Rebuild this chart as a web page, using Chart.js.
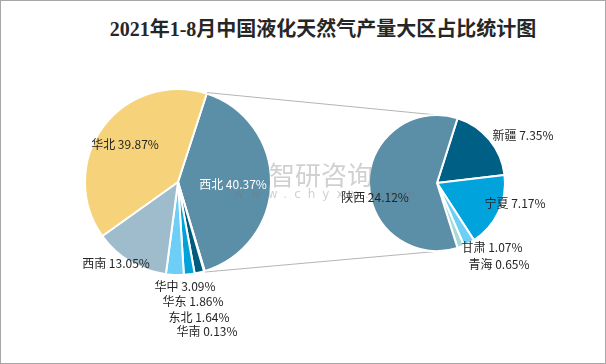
<!DOCTYPE html>
<html>
<head>
<meta charset="utf-8">
<script src="https://cdn.jsdelivr.net/npm/chart.js@4.4.0/dist/chart.umd.min.js"></script>
<style>
  body { margin: 0; background: #fff; }
  #wrap { position: relative; width: 604px; height: 362px; border: 1px solid #a6a6a6; overflow: hidden; }
  #title { position: absolute; left: 38px; top: 12px; width: 568px; text-align: center;
           font: bold 20px "Liberation Serif", "Noto Sans CJK SC", serif; color: #262626; }
  canvas { position: absolute; left: -1px; top: -1px; }
  #mark { position: absolute; left: 268px; top: 158px; color: rgba(120,120,120,0.35);
          font: 26px "Noto Sans CJK SC", sans-serif; line-height: 30px; z-index: 5; }
  #mark2 { position: absolute; left: 233px; top: 186px; color: rgba(120,120,120,0.35);
           font: 12px "DejaVu Sans", sans-serif; letter-spacing: 7px; z-index: 5; }
</style>
</head>
<body>
<div id="wrap">
  <div id="title">2021年1-8月中国液化天然气产量大区占比统计图</div>
  <canvas id="leftPie" width="606" height="364"></canvas>
  <canvas id="rightPie" width="606" height="364"></canvas>
  <div id="mark">智研咨询</div>
  <div id="mark2">www.chyxx.com</div>
</div>
<script>
// 大区占比（%），西北 为拆分到右侧小饼的部分
var regionLabels = ['西北', '华南', '东北', '华东', '华中', '西南', '华北'];
var regionValues = [40.37, 0.13, 1.64, 1.86, 3.09, 13.05, 39.87];
var regionColors = ['#5b8fa7', '#1f4e79', '#005c7e', '#00a2d9', '#6dcff6', '#9ebccb', '#f6d37b'];

// 西北 拆分
var nwLabels = ['新疆', '宁夏', '甘肃', '青海', '陕西'];
var nwValues = [7.35, 7.17, 1.07, 0.65, 24.12];
var nwColors = ['#005f84', '#00a3db', '#6dcff6', '#a6dad8', '#5b8fa7'];

// label anchors, offset in px from pie centre
var regionLabelPos = [[55, 2], [29, 149], [21, 135], [15, 119], [7, 104], [-62, 81], [-53, -38]];
var nwLabelPos = [[86, -48], [78, 20], [55, 64], [62, 81], [-62, 14]];

const labelPlugin = {
    id: 'sliceLabels',
    afterDatasetsDraw(chart, args, opts) {
        const ctx = chart.ctx;
        const meta = chart.getDatasetMeta(0);
        const arc = meta.data[0];
        const labels = chart.data.labels;
        const values = chart.data.datasets[0].data;
        ctx.save();
        ctx.font = '12px "Noto Sans CJK SC", sans-serif';
        ctx.textAlign = 'center';
        ctx.textBaseline = 'middle';
        labels.forEach((lab, i) => {
            ctx.fillStyle = (opts.white || []).includes(i) ? '#ffffff' : '#262626';
            ctx.fillText(lab + ' ' + values[i].toFixed(2) + '%', arc.x + opts.pos[i][0], arc.y + opts.pos[i][1]);
        });
        ctx.restore();
    }
};

const leftChart = new Chart(document.getElementById('leftPie').getContext('2d'), {
    type: 'pie',
    data: {
        labels: regionLabels,
        datasets: [{
            data: regionValues,
            backgroundColor: regionColors,
            borderColor: '#ffffff',
            borderWidth: 2
        }]
    },
    options: {
        responsive: false,
        animation: false,
        rotation: 18,
        layout: { padding: { left: 84, right: 334, top: 88, bottom: 88 } },
        plugins: {
            legend: { display: false },
            tooltip: { enabled: false },
            sliceLabels: { pos: regionLabelPos, white: [0] }
        }
    },
    plugins: [labelPlugin]
});

// lines joining the 西北 slice with the small pie
const linkPlugin = {
    id: 'linkLines',
    beforeDatasetsDraw(chart) {
        const ctx = chart.ctx;
        const big = leftChart.getDatasetMeta(0).data[0];
        const small = chart.getDatasetMeta(0).data[0];
        const r = big.outerRadius + 1;
        ctx.save();
        ctx.strokeStyle = '#b4b4b4';
        ctx.lineWidth = 1;
        ctx.beginPath();
        ctx.moveTo(big.x + r * Math.cos(big.startAngle), big.y + r * Math.sin(big.startAngle));
        ctx.lineTo(small.x, small.y - small.outerRadius);
        ctx.moveTo(big.x + r * Math.cos(big.endAngle), big.y + r * Math.sin(big.endAngle));
        ctx.lineTo(small.x + 4, small.y + small.outerRadius);
        ctx.stroke();
        ctx.restore();
    }
};

new Chart(document.getElementById('rightPie').getContext('2d'), {
    type: 'pie',
    data: {
        labels: nwLabels,
        datasets: [{
            data: nwValues,
            backgroundColor: nwColors,
            borderColor: '#ffffff',
            borderWidth: 2
        }]
    },
    options: {
        responsive: false,
        animation: false,
        rotation: 17.6,
        layout: { padding: { left: 368, right: 100, top: 114, bottom: 112 } },
        plugins: {
            legend: { display: false },
            tooltip: { enabled: false },
            sliceLabels: { pos: nwLabelPos }
        }
    },
    plugins: [linkPlugin, labelPlugin]
});
</script>
</body>
</html>
